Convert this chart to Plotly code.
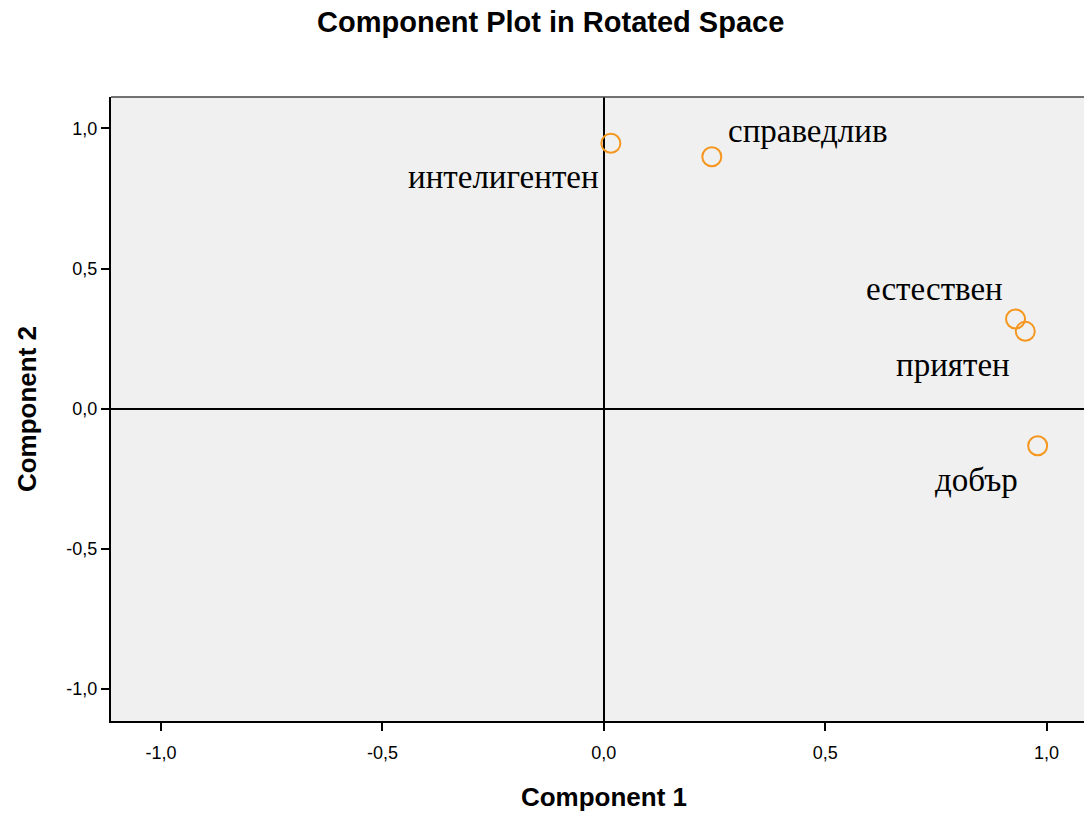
import plotly.graph_objects as go

labels = ["интелигентен", "справедлив", "естествен", "приятен", "добър"]
comp1 = [0.016, 0.244, 0.930, 0.952, 0.980]
comp2 = [0.947, 0.899, 0.320, 0.276, -0.132]

tick_vals = [-1.0, -0.5, 0.0, 0.5, 1.0]
tick_text = ["-1,0", "-0,5", "0,0", "0,5", "1,0"]

# label placement (style): anchor, x pixel shift, y pixel shift
label_style = [
    ("right", -10, -34),
    ("left", 14, 26),
    ("right", -11, 30),
    ("right", -13, -34),
    ("right", -18, -34),
]

fig = go.Figure()
fig.add_trace(go.Scatter(
    x=comp1, y=comp2, mode="markers",
    marker=dict(symbol="circle-open", size=19, color="#F5961E",
                line=dict(width=2, color="#F5961E")),
    hoverinfo="skip", showlegend=False,
))

for (lab, x, y), (anc, xs, ys) in zip(zip(labels, comp1, comp2), label_style):
    fig.add_annotation(x=x, y=y, xref="x", yref="y", text=lab, showarrow=False,
                       xanchor=anc, yanchor="middle", xshift=xs, yshift=ys,
                       font=dict(family="Liberation Serif, Times New Roman, serif",
                                 size=33, color="black"))

# top border of the plot frame
fig.add_shape(type="line", xref="paper", yref="paper", x0=0, x1=1, y0=1, y1=1,
              line=dict(color="#444444", width=1.5))

axis_common = dict(
    tickvals=tick_vals, ticktext=tick_text, ticks="outside", ticklen=8,
    tickwidth=2, tickcolor="black", showgrid=False,
    zeroline=True, zerolinecolor="black", zerolinewidth=2,
    showline=True, linecolor="black", linewidth=2,
    tickfont=dict(family="Liberation Sans, Arial, sans-serif", size=18, color="black"),
)

fig.update_layout(
    width=1097, height=813,
    margin=dict(l=111, r=0, t=97, b=92),
    paper_bgcolor="white", plot_bgcolor="#F0F0F0",
    title=dict(text="<b>Component Plot in Rotated Space</b>", x=0.502, xanchor="center",
               y=0.973, yanchor="middle",
               font=dict(family="Liberation Sans, Arial, sans-serif", size=29, color="black")),
    xaxis=dict(range=[-1.113, 1.114], ticklabelstandoff=6,
               title=dict(text="<b>Component 1</b>", standoff=26,
                          font=dict(family="Liberation Sans, Arial, sans-serif", size=26, color="black")),
               **axis_common),
    yaxis=dict(range=[-1.114, 1.112],
               title=dict(text="<b>Component 2</b>", standoff=22,
                          font=dict(family="Liberation Sans, Arial, sans-serif", size=26, color="black")),
               **axis_common),
)

fig.write_html("out.html", config={"displayModeBar": False},
               post_script="document.body.style.margin='0px';"
                           "document.documentElement.style.overflow='hidden';"
                           "document.body.style.overflow='hidden';")
